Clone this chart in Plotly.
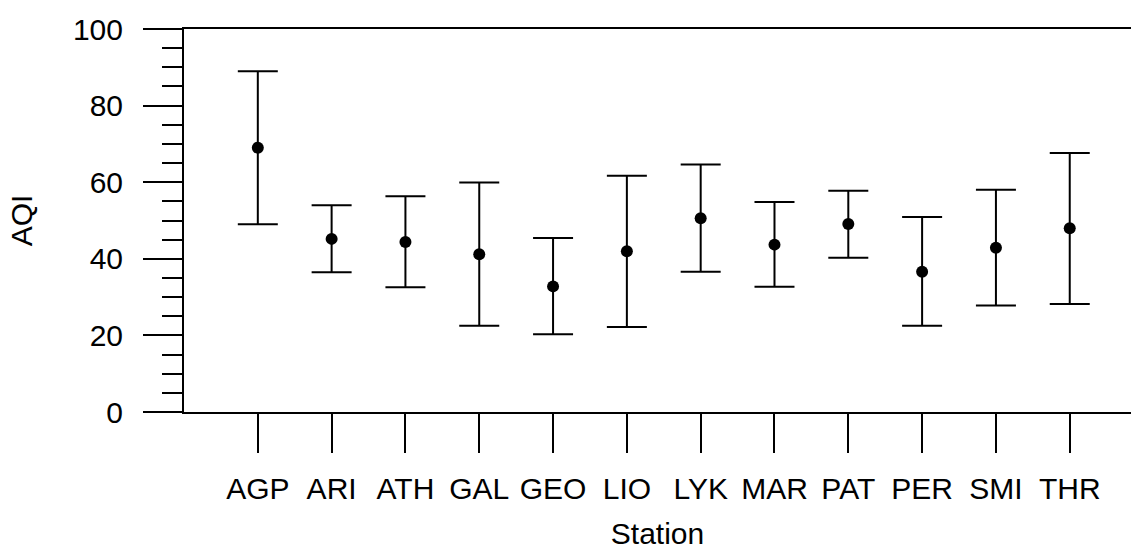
import plotly.graph_objects as go

stations = ["AGP", "ARI", "ATH", "GAL", "GEO", "LIO", "LYK", "MAR", "PAT", "PER", "SMI", "THR"]
mean_aqi = [69.0, 45.2, 44.4, 41.2, 32.8, 42.0, 50.6, 43.7, 49.1, 36.6, 42.9, 48.0]
upper_aqi = [89.0, 54.0, 56.3, 59.9, 45.4, 61.7, 64.6, 54.8, 57.8, 50.9, 58.0, 67.6]
lower_aqi = [49.0, 36.5, 32.6, 22.5, 20.3, 22.2, 36.6, 32.7, 40.3, 22.5, 27.8, 28.2]
y_ticks = [0, 20, 40, 60, 80, 100]

xpos = list(range(len(stations)))
err_plus = [u - m for u, m in zip(upper_aqi, mean_aqi)]
err_minus = [m - l for m, l in zip(mean_aqi, lower_aqi)]

FONT = "Liberation Sans, Arial, sans-serif"

fig = go.Figure(
    go.Scatter(
        x=xpos,
        y=mean_aqi,
        mode="markers",
        marker=dict(color="black", size=12),
        error_y=dict(
            type="data",
            symmetric=False,
            array=err_plus,
            arrayminus=err_minus,
            color="black",
            thickness=2,
            width=20,
        ),
        showlegend=False,
        hoverinfo="skip",
    )
)

fig.update_layout(
    width=1131,
    height=550,
    margin=dict(l=184, r=0, t=29, b=138),
    paper_bgcolor="white",
    plot_bgcolor="white",
    font=dict(family=FONT, size=30, color="black"),
    xaxis=dict(
        range=[-1, 11.83],
        tickmode="array",
        tickvals=xpos,
        ticktext=stations,
        ticks="outside",
        ticklen=39,
        tickwidth=2,
        tickcolor="black",
        showline=True,
        linecolor="black",
        linewidth=2,
        mirror=True,
        showgrid=False,
        zeroline=False,
        automargin=False,
        ticklabelstandoff=10,
        title=dict(text="Station", font=dict(size=30), standoff=21),
    ),
    yaxis=dict(
        range=[0, 100],
        tickmode="array",
        tickvals=y_ticks,
        ticks="outside",
        ticklen=39,
        tickwidth=2,
        tickcolor="black",
        minor=dict(dtick=5, ticks="outside", ticklen=20, tickwidth=2, tickcolor="black", showgrid=False),
        showline=True,
        linecolor="black",
        linewidth=2,
        showgrid=False,
        zeroline=False,
        automargin=False,
        ticklabelstandoff=14,
        title=dict(text="AQI", font=dict(size=30), standoff=31),
    ),
)

fig.write_html(
    "out.html",
    config={"displayModeBar": False},
    post_script="document.body.style.margin='0';document.body.style.overflow='hidden';",
)
